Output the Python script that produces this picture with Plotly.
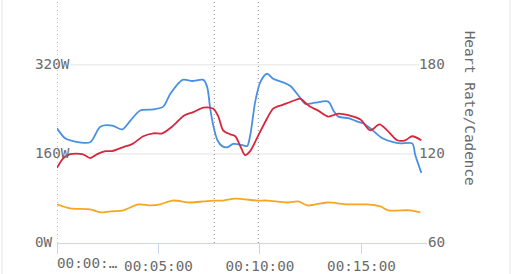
import plotly.graph_objects as go

# ---- data (seconds / watts / bpm / rpm) ----
power_t = [0, 24, 48, 98, 128, 163, 193, 217, 246, 285, 314, 335, 371, 400, 433, 444, 453, 462,
           474, 488, 503, 521, 548, 562, 571, 586, 601, 621, 639, 666, 690, 716, 734, 763, 802,
           817, 832, 864, 888, 905, 926, 962, 994, 1015, 1050, 1059, 1077]
power_w = [206, 188, 183, 181, 209, 211, 204, 220, 238, 240, 245, 268, 293, 291, 293, 280, 241, 211,
           185, 174, 172, 178, 176, 174, 193, 254, 289, 304, 295, 289, 282, 263, 250, 252, 254,
           238, 227, 224, 218, 215, 206, 188, 181, 179, 179, 158, 126]

hr_t = [0, 19, 39, 75, 98, 119, 143, 163, 196, 222, 255, 285, 311, 341, 376, 403, 433, 462, 477,
        491, 512, 527, 542, 556, 571, 595, 621, 639, 669, 707, 719, 737, 749, 772, 802, 832, 864,
        897, 926, 953, 976, 1006, 1029, 1050, 1077]
hr_bpm = [110.6, 117.2, 119.9, 119.9, 117.2, 119.9, 121.9, 121.9, 124.6, 126.6, 131.9, 133.9, 133.9,
          138.5, 145.9, 148.2, 151.2, 150.5, 145.2, 135.9, 133.2, 131.9, 125.2, 119.2, 121.9, 132.5,
          143.9, 150.5, 153.2, 156.5, 157.2, 153.8, 151.8, 149.2, 145.2, 147.2, 145.9, 143.2, 135.9,
          139.9, 135.9, 129.2, 129.2, 131.9, 129.2]

cad_t = [0, 39, 98, 128, 158, 196, 240, 276, 305, 341, 394, 433, 462, 491, 527, 592, 621, 681, 713,
         740, 799, 858, 917, 956, 979, 1044, 1074]
cad_rpm = [86, 83.3, 82.6, 80.6, 81.3, 82, 86, 85.3, 86, 88.6, 87.3, 88, 88.6, 88.6, 89.9, 88.6, 88.6,
           87.3, 88, 85.3, 87.3, 86, 86, 84.6, 82, 82, 80.6]

marker_t = [0, 465, 595]

x_tickvals = [0, 300, 600, 900]
x_ticktext = ["", "00:05:00", "00:10:00", "00:15:00"]
first_tick_label = "00:00:…"

left_tickvals = [0, 160, 320]
left_ticktext = ["0W", "160W", "320W"]
right_tickvals = [60, 120, 180]
right_ticktext = ["60", "120", "180"]
right_title = "Heart Rate/Cadence"

# ---- styling ----
FONT = "DejaVu Sans Mono"
FS = 14.3
TXT = "#6b6b6b"
AXIS = "#ccd6eb"
GRID = "#e3e3e3"

W, H = 512, 274
ML, MR, MT, MB = 57, 85, 0, 28
PW = W - ML - MR
PH = H - MT - MB


def px_x(p):
    return (p - ML) / PW


fig = go.Figure()
fig.add_trace(go.Scatter(x=cad_t, y=cad_rpm, yaxis="y2", mode="lines",
                         line=dict(color="#f5a623", width=1.8, shape="spline", smoothing=0.8),
                         hoverinfo="skip"))
fig.add_trace(go.Scatter(x=power_t, y=power_w, mode="lines",
                         line=dict(color="#4a90e2", width=1.8, shape="spline", smoothing=0.8),
                         hoverinfo="skip"))
fig.add_trace(go.Scatter(x=hr_t, y=hr_bpm, yaxis="y2", mode="lines",
                         line=dict(color="#d7263d", width=1.8, shape="spline", smoothing=0.8),
                         hoverinfo="skip"))

shapes = []
# gridlines (drawn between the labels)
for v in left_tickvals[1:]:
    shapes.append(dict(type="line", xref="paper", yref="y", x0=px_x(70), x1=px_x(419), y0=v, y1=v,
                       line=dict(color=GRID, width=1), layer="below"))
# marker dotted lines
for t in marker_t:
    shapes.append(dict(type="line", xref="x", yref="paper", x0=t, x1=t, y0=0, y1=1,
                       line=dict(color="#8a8a8a", width=1, dash="1px,3px"), layer="below"))
# card borders
for p in (2, 510):
    shapes.append(dict(type="line", xref="paper", yref="paper", x0=px_x(p), x1=px_x(p),
                       y0=-0.2, y1=1.2, line=dict(color="#e6e6e6", width=1)))

annotations = []
for v, t in zip(left_tickvals, left_ticktext):
    annotations.append(dict(xref="paper", yref="y", x=px_x(33), y=v, text=t, showarrow=False,
                            xanchor="left", yanchor="middle", yshift=1,
                            font=dict(family=FONT, size=FS, color=TXT)))
for v, t in zip(right_tickvals, right_ticktext):
    annotations.append(dict(xref="paper", yref="y2", x=px_x(447), y=v, text=t, showarrow=False,
                            xanchor="right", yanchor="middle", yshift=1,
                            font=dict(family=FONT, size=FS, color=TXT)))
annotations.append(dict(xref="paper", yref="paper", x=px_x(55), y=0, text=first_tick_label,
                        showarrow=False, xanchor="left", yanchor="top", yshift=-10,
                        font=dict(family=FONT, size=FS, color=TXT)))
annotations.append(dict(xref="paper", yref="paper", x=px_x(470), y=1 - 109 / PH, text=right_title,
                        showarrow=False, textangle=90, xanchor="center", yanchor="middle",
                        font=dict(family=FONT, size=FS, color=TXT)))

fig.update_layout(
    width=W, height=H,
    margin=dict(l=ML, r=MR, t=MT, b=MB, pad=0),
    paper_bgcolor="white", plot_bgcolor="white",
    showlegend=False,
    xaxis=dict(range=[0, PW / 0.3383], tickvals=x_tickvals, ticktext=x_ticktext,
               showgrid=False, zeroline=False, showline=True, linecolor=AXIS, linewidth=1,
               ticks="outside", ticklen=10, tickcolor=AXIS, tickwidth=1,
               tickfont=dict(family=FONT, size=FS, color=TXT)),
    yaxis=dict(range=[0, 436.5], showgrid=False, zeroline=False, showticklabels=False,
               showline=False, tickvals=left_tickvals),
    yaxis2=dict(range=[60, 223.7], overlaying="y", side="right", showgrid=False,
                zeroline=False, showticklabels=False, showline=False, tickvals=right_tickvals),
    shapes=shapes,
    annotations=annotations,
)

fig.write_html("out.html")
